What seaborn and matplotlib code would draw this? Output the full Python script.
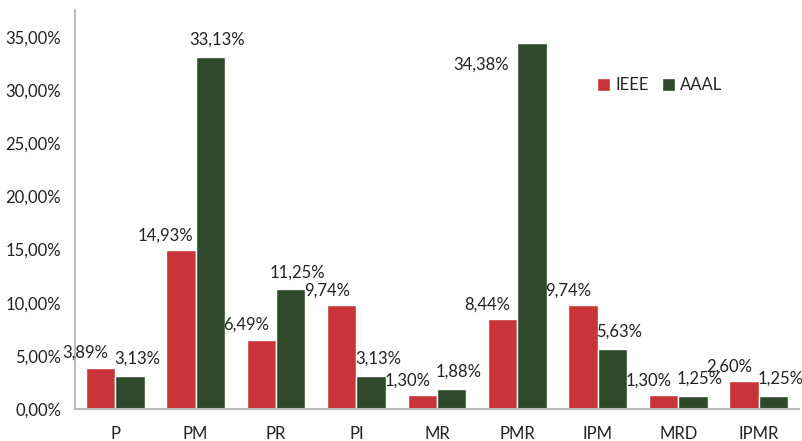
import pandas as pd
import matplotlib.pyplot as plt
import seaborn as sns

categories = ["P", "PM", "PR", "PI", "MR", "PMR", "IPM", "MRD", "IPMR"]
ieee = [3.89, 14.93, 6.49, 9.74, 1.30, 8.44, 9.74, 1.30, 2.60]
aaal = [3.13, 33.13, 11.25, 3.13, 1.88, 34.38, 5.63, 1.25, 1.25]
series = ["IEEE", "AAAL"]
colors = ["#C83437", "#2F4A2B"]

df = pd.DataFrame({
    "cat": categories * 2,
    "serie": [series[0]] * len(categories) + [series[1]] * len(categories),
    "val": ieee + aaal,
})

sns.set_style("white")
plt.rcParams['font.family'] = ['Lato', 'DejaVu Sans']

fig = plt.figure(figsize=(8.03, 4.41), dpi=100)
ax = fig.add_axes([0.0934, 0.0726, 0.9014, 0.9044])

sns.barplot(data=df, x="cat", y="val", hue="serie", palette=colors,
            width=0.73, ax=ax, saturation=1, errorbar=None)

ymax = 37.5
ax.set_ylim(0, ymax)
ax.set_xlim(-0.5, len(categories) - 0.5)
ax.set_yticks([0, 5, 10, 15, 20, 25, 30, 35])
ax.set_yticklabels([f"{t:.2f}".replace(".", ",") + "%" for t in ax.get_yticks()])
ax.tick_params(axis="both", length=0, labelsize=12, colors="#222222")
ax.tick_params(axis="x", pad=12)
ax.tick_params(axis="y", pad=10)
ax.set_xlabel("")
ax.set_ylabel("")

for s in ["top", "right"]:
    ax.spines[s].set_visible(False)
for s in ["left", "bottom"]:
    ax.spines[s].set_color("#BBBBBB")
    ax.spines[s].set_linewidth(1.5)

# data labels (Excel-like: red up-left, green up-right)
fmt = lambda v: f"{v:.2f}".replace(".", ",") + "%"
for i, (a, b) in enumerate(zip(ieee, aaal)):
    ax.text(i - 0.37, a + 1.4, fmt(a), ha="center", va="center", fontsize=12, color="#222222")
    if b + 4 > ymax:
        # no room above: put it beside the bar
        ax.text(i - 0.45, b - 2.0, fmt(b), ha="center", va="center", fontsize=12, color="#222222")
    else:
        ax.text(i + 0.27, b + 1.6, fmt(b), ha="center", va="center", fontsize=12, color="#222222")

leg = ax.legend(loc="upper left", bbox_to_anchor=(0.7, 0.87), ncol=2, frameon=False,
                fontsize=12, handlelength=0.8, handleheight=0.8, handletextpad=0.3,
                columnspacing=0.8)

plt.savefig("out.png", dpi=100)
